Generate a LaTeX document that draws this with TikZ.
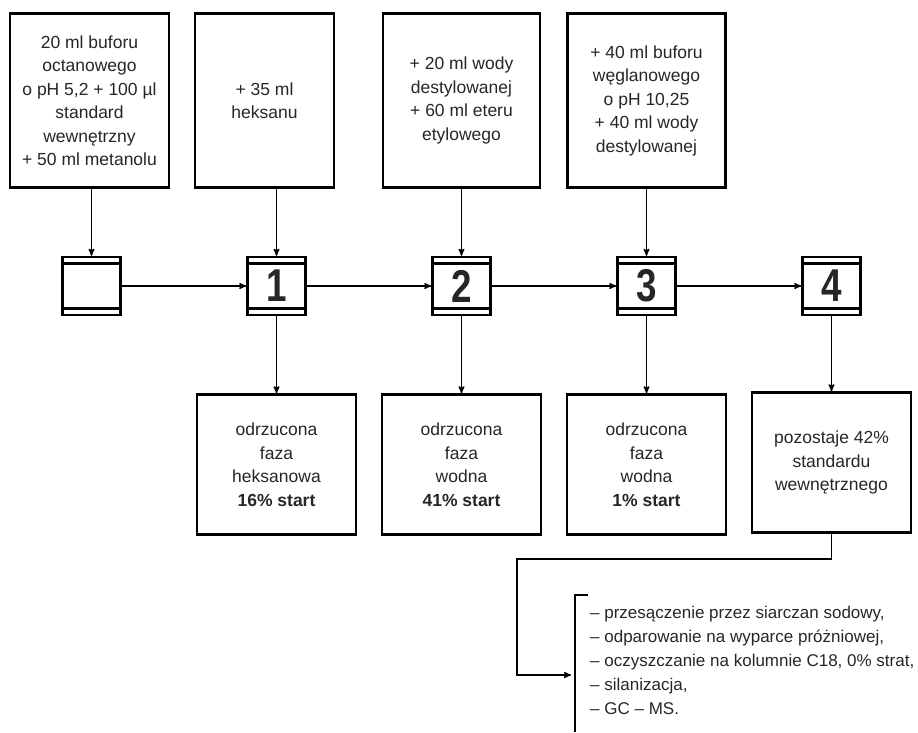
\documentclass[tikz,border=0pt]{standalone}
\usepackage{fontspec}
\setmainfont{Liberation Sans}
\newfontfamily\digitfont[FakeStretch=0.8]{Liberation Sans}
\usetikzlibrary{arrows,positioning}

\tikzset{
  box/.style={draw, line width=2.5pt, align=center, inner sep=2pt,
    minimum width=159pt, minimum height=140pt, text=black!85,
    font=\fontsize{17.5}{23.5}\selectfont},
  addbox/.style={box, minimum height=174pt},
  vessel/.style={draw, line width=2.5pt, inner sep=0pt,
    minimum width=58pt, minimum height=58pt, text=black!85,
    font=\digitfont\bfseries\fontsize{46}{46}\selectfont,
    path picture={
      \draw[line width=2.2pt]
        ([yshift=-6.5pt]path picture bounding box.north west) --
        ([yshift=-6.5pt]path picture bounding box.north east);
      \draw[line width=2.2pt]
        ([yshift=6.5pt]path picture bounding box.south west) --
        ([yshift=6.5pt]path picture bounding box.south east);
    }},
  link/.style={line width=1.4pt},
}

\begin{document}
\begin{tikzpicture}[x=1pt,y=1pt,>=stealth',node distance=185pt]
  \useasboundingbox (0,0) rectangle (918,-732);

  % vessels
  \node[vessel] (v0) at (91.5,-286) {};
  \node[vessel] (v1) [right of=v0] {1};
  \node[vessel] (v2) [right of=v1] {2};
  \node[vessel] (v3) [right of=v2] {3};
  \node[vessel] (v4) [right of=v3] {4};

  % what is added
  \node[addbox] (inA) [above=67pt of v0, xshift=-2pt] {20 ml buforu\\octanowego\\o pH 5,2 + 100 µl\\standard\\wewnętrzny\\+ 50 ml metanolu};
  \node[addbox, minimum width=139pt] (inB) [above=67pt of v1, xshift=-12pt] {+ 35 ml\\heksanu};
  \node[addbox, minimum width=157pt] (inC) [above=67pt of v2] {+ 20 ml wody\\destylowanej\\+ 60 ml eteru\\etylowego};
  \node[addbox, minimum width=158pt] (inD) [above=67pt of v3] {+ 40 ml buforu\\węglanowego\\o pH 10,25\\+ 40 ml wody\\destylowanej};

  % what is left
  \node[box] (out1) [below=77pt of v1] {odrzucona\\faza\\heksanowa\\\textbf{16\% start}};
  \node[box] (out2) [below=77pt of v2] {odrzucona\\faza\\wodna\\\textbf{41\% start}};
  \node[box] (out3) [below=77pt of v3] {odrzucona\\faza\\wodna\\\textbf{1\% start}};
  \node[box] (out4) [below=75pt of v4] {pozostaje 42\%\\standardu\\wewnętrznego};

  \node[align=left, anchor=north west, inner sep=0pt, text=black!85,
    font=\fontsize{17}{24}\selectfont] (steps) at (590,-606)
    {– przesączenie przez siarczan sodowy,\\
     – odparowanie na wyparce próżniowej,\\
     – oczyszczanie na kolumnie C18, 0\% strat,\\
     – silanizacja,\\
     – GC – MS.};
  \draw[line width=2.2pt] (588,-595) -- (575,-595) -- (575,-732);

  \coordinate (bend) at (517,-559);
  \coordinate (tip) at (571,-675);

  % connectors
  \draw[link,->] (v0 |- inA.south) -- (v0);
  \draw[link,->] (v1 |- inB.south) -- (v1);
  \draw[link,->] (v2 |- inC.south) -- (v2);
  \draw[link,->] (v3 |- inD.south) -- (v3);
  \draw[link,->] (v0) -- (v1);
  \draw[link,->] (v1) -- (v2);
  \draw[link,->] (v2) -- (v3);
  \draw[link,->] (v3) -- (v4);
  \draw[link,->] (v1) -- (out1);
  \draw[link,->] (v2) -- (out2);
  \draw[link,->] (v3) -- (out3);
  \draw[link,->] (v4) -- (out4);
  \draw[link,->] (out4) |- (bend) |- (tip);
\end{tikzpicture}
\end{document}
